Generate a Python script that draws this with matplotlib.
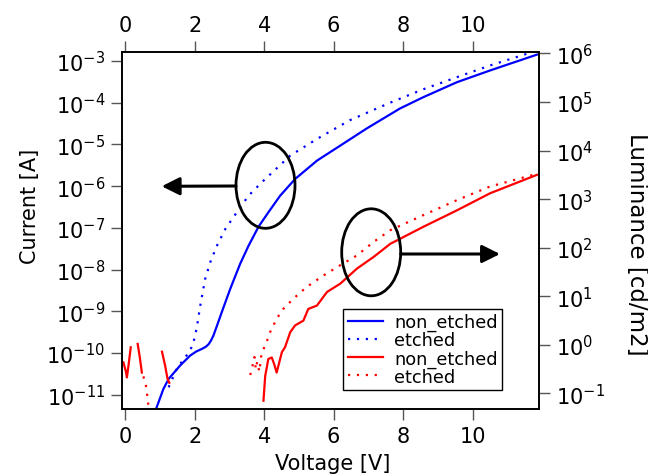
import numpy as np
import matplotlib
matplotlib.use("Agg")
import matplotlib.pyplot as plt
from matplotlib.patches import Ellipse, FancyArrowPatch
from matplotlib.lines import Line2D
from matplotlib.ticker import FixedLocator, FuncFormatter

plt.rcParams['font.family'] = ['DejaVu Sans']
plt.rcParams['mathtext.fontset'] = 'dejavusans'

nan = np.nan
# ---- data (log10 values) ----
ne_cur_v = [0.84, 1.10, 1.25, 1.58, 1.87, 2.05, 2.21, 2.32, 2.40, 2.47, 2.54, 2.64, 2.78,
            3.02, 3.31, 3.55, 3.84, 4.12, 4.46, 4.89, 5.52, 6.19, 6.95, 7.63, 7.91, 8.58,
            9.55, 10.5, 11.85]
ne_cur_log = [-11.45, -10.86, -10.62, -10.30, -10.06, -9.96, -9.90, -9.85, -9.79, -9.70,
              -9.58, -9.35, -9.02, -8.47, -7.86, -7.43, -6.97, -6.63, -6.23, -5.83, -5.39,
              -5.03, -4.62, -4.28, -4.14, -3.87, -3.51, -3.23, -2.85]

et_cur_v = [1.25, 1.5, 1.82, 1.95, 2.06, 2.16, 2.30, 2.45, 2.64, 2.88, 3.21, 3.55, 3.93,
            4.75, 5.52, 6.47, 7.63, 8.58, 9.55, 10.5, 11.56, 11.85]
et_cur_log = [-10.82, -10.35, -10.0, -9.8, -9.4, -8.87, -8.23, -7.82, -7.43, -7.03, -6.63,
              -6.23, -5.91, -5.27, -4.87, -4.42, -4.0, -3.68, -3.39, -3.11, -2.83, -2.76]

ne_lum_v = [-0.05, 0.02, 0.05, 0.10, 0.16, nan, 0.36, 0.42, 0.48, nan, 1.06, 1.15, 1.22, 1.27,
            nan, 3.98, 4.03, 4.12, 4.22, 4.29, 4.36, 4.51, 4.60, 4.75, 4.89, 5.13, 5.27, 5.52,
            5.81, 6.19, 6.67, 7.15, 7.63, 7.82, 8.58, 9.55, 10.5, 11.85]
ne_lum_log = [-0.36, -0.55, -0.67, -0.40, -0.05, nan, 0.02, -0.25, -0.57, nan, -0.14, -0.43,
              -0.70, -0.78, nan, -1.15, -0.64, -0.29, -0.26, -0.40, -0.57, -0.15, -0.05, 0.26,
              0.40, 0.50, 0.74, 0.81, 1.09, 1.26, 1.57, 1.81, 2.08, 2.15, 2.43, 2.77, 3.12,
              3.50]

et_lum_v = [0.52, 0.58, 0.62, 0.67, 0.72, 0.76, nan, 3.60, 3.66, 3.72, 3.76, 3.80, 3.86, 3.93,
            4.03, 4.17, 4.36, 4.55, 4.84, 5.22, 5.71, 6.19, 6.67, 7.15, 7.63, 8.58, 9.55,
            10.5, 11.85]
et_lum_log = [-0.65, -0.75, -0.95, -1.26, -1.60, -2.10, nan, -0.62, -0.45, -0.25, -0.50,
              -0.35, -0.55, -0.15, -0.02, 0.26, 0.54, 0.74, 0.95, 1.19, 1.43, 1.64, 1.84, 2.12,
              2.36, 2.67, 2.98, 3.26, 3.52]

x_ticks = [0, 2, 4, 6, 8, 10]
cur_ticks = [-11, -10, -9, -8, -7, -6, -5, -4, -3]
lum_ticks = [-1, 0, 1, 2, 3, 4, 5, 6]
legend_labels = ['non_etched', 'etched', 'non_etched', 'etched']

W, H = 648, 477
fig = plt.figure(figsize=(W / 100, H / 100), dpi=100)
L, R, T, B = 121.7, 539, 52.7, 410
ax = fig.add_axes([L / W, 1 - B / H, (R - L) / W, (B - T) / H])
ax2 = ax.twinx()

dot = (0, (1, 3))
lw = 1.6
ax.plot(ne_cur_v, 10 ** np.array(ne_cur_log), color='#0000ff', lw=lw)
ax.plot(et_cur_v, 10 ** np.array(et_cur_log), color='#0000ff', lw=lw, ls=dot)
ax2.plot(ne_lum_v, 10 ** np.array(ne_lum_log), color='#ff0000', lw=lw)
ax2.plot(et_lum_v, 10 ** np.array(et_lum_log), color='#ff0000', lw=lw, ls=dot)

ax.set_yscale('log')
ax2.set_yscale('log')
ax.set_xlim(-0.1, 11.91)
ax.set_ylim(10 ** -11.34, 10 ** -2.78)
ax2.set_ylim(10 ** -1.32, 10 ** 6.035)

fmt = FuncFormatter(lambda v, p: r'$10^{%d}$' % round(np.log10(v)))
ax.yaxis.set_major_locator(FixedLocator([10.0 ** k for k in cur_ticks]))
ax.yaxis.set_major_formatter(fmt)
ax.yaxis.set_minor_locator(FixedLocator([]))
ax2.yaxis.set_major_locator(FixedLocator([10.0 ** k for k in lum_ticks]))
ax2.yaxis.set_major_formatter(fmt)
ax2.yaxis.set_minor_locator(FixedLocator([]))
ax.set_xticks(x_ticks)
ax.set_xticklabels([str(t) for t in x_ticks])

fs = 15
ax.tick_params(axis='x', which='both', direction='out', length=8, width=1, top=True,
               labeltop=True, labelsize=fs, pad=4, color='#555555')
ax.tick_params(axis='y', direction='out', length=8, width=1, labelsize=fs, pad=4, color='#555555')
ax2.tick_params(axis='y', direction='out', length=8, width=1, labelsize=fs, pad=4, color='#555555')
for a in (ax, ax2):
    for s in a.spines.values():
        s.set_linewidth(1.2)

ax.set_xlabel('Voltage [V]', fontsize=fs, va='center', ha='center')
ax.set_ylabel('Current [A]', fontsize=fs, va='center', ha='center')
ax2.set_ylabel('Luminance [cd/m2]', fontsize=16.5, rotation=270, va='center', ha='center')
ax.xaxis.set_label_coords(0.506, -0.150)
ax.yaxis.set_label_coords(-0.219, 0.57)
ax2.yaxis.set_label_coords(1.233, 0.465)

handles = [Line2D([], [], color='#0000ff', lw=lw),
           Line2D([], [], color='#0000ff', lw=lw, ls=dot),
           Line2D([], [], color='#ff0000', lw=lw),
           Line2D([], [], color='#ff0000', lw=lw, ls=dot)]
leg = ax2.legend(handles, legend_labels, loc='lower left',
                 bbox_to_anchor=(343.3 / W, 1 - 391 / H), bbox_transform=fig.transFigure,
                 borderaxespad=0, fontsize=12.8, frameon=True, fancybox=False,
                 edgecolor='black', framealpha=1, labelspacing=0.0, handlelength=2.0,
                 handletextpad=0.6, borderpad=0.25)
leg.get_frame().set_linewidth(1.0)

# annotations: ellipses and arrows
for (cx, cy, w, h) in [(265.5, 186.3, 59, 86), (371.2, 253.3, 59, 87)]:
    fig.add_artist(Ellipse((cx / W, 1 - cy / H), w / W, h / H, transform=fig.transFigure,
                           fill=False, lw=2.0, color='black'))
for (x0, y0, x1, y1) in [(236, 187, 161.7, 187.3), (400.7, 255, 500, 255)]:
    fig.add_artist(FancyArrowPatch((x0 / W, 1 - y0 / H), (x1 / W, 1 - y1 / H),
                                   transform=fig.transFigure, arrowstyle='-|>',
                                   mutation_scale=27, lw=2.2, color='black',
                                   shrinkA=0, shrinkB=0))

fig.savefig('out.png', dpi=100)
